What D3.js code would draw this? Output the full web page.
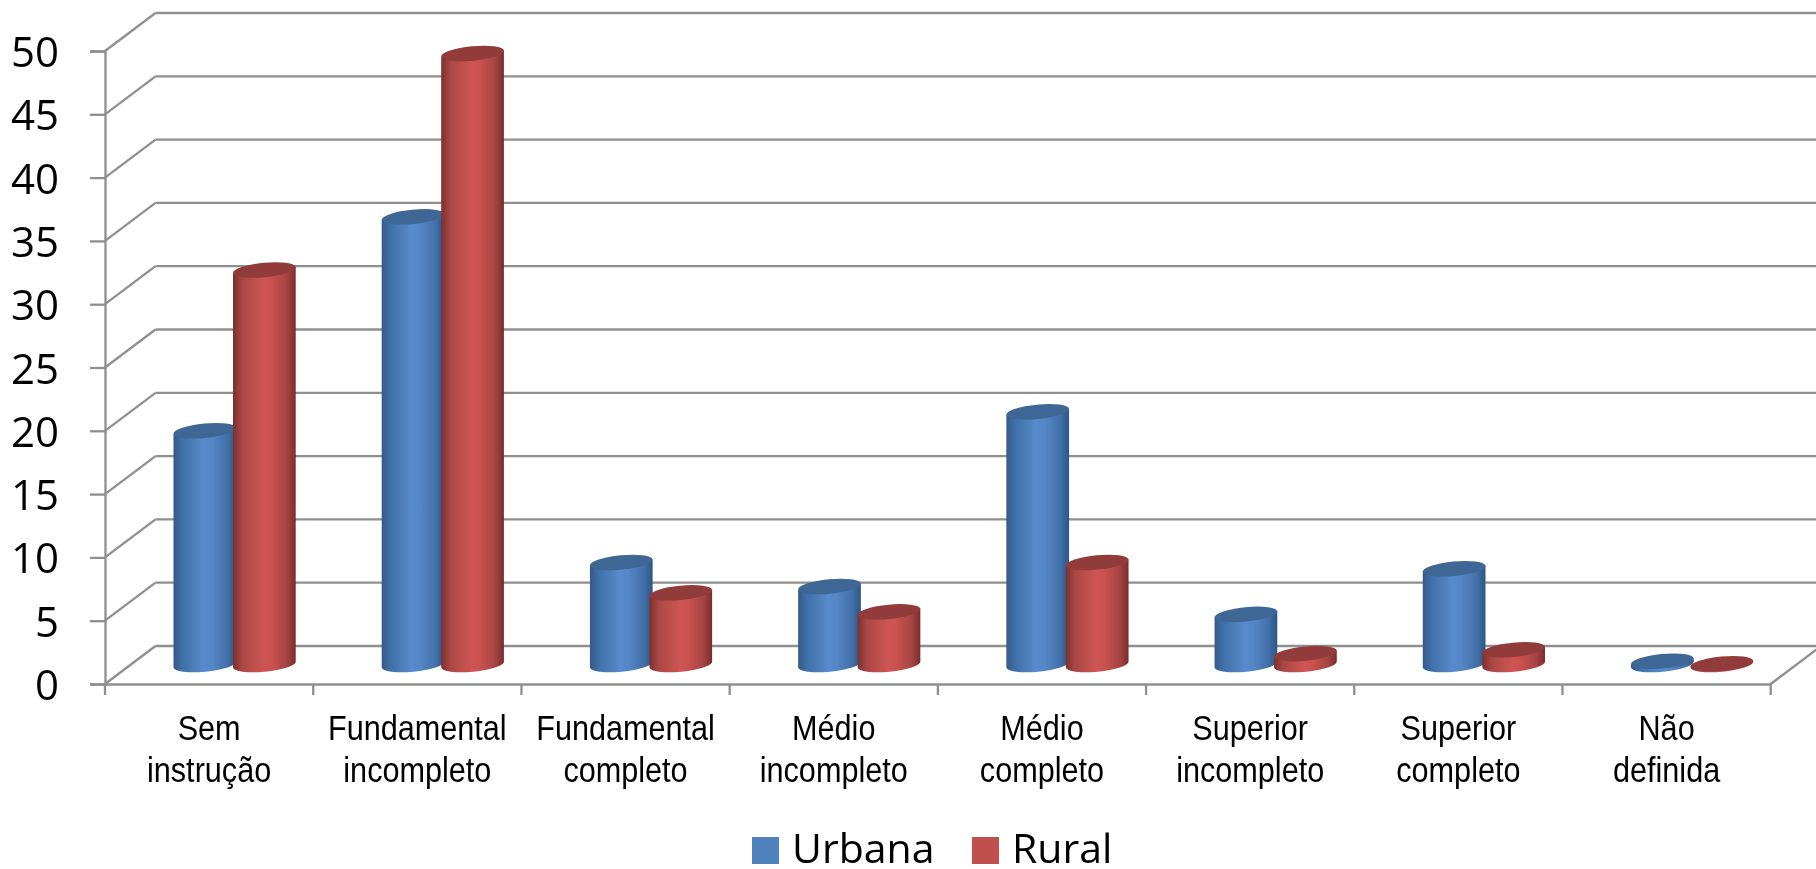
<!DOCTYPE html>
<html>
<head>
<meta charset="utf-8">
<title>Escolaridade</title>
<script src="https://cdn.jsdelivr.net/npm/d3@7"></script>
<style>
html, body { margin: 0; padding: 0; background: #fff; overflow: hidden; }
svg { display: block; filter: blur(0.5px); }
.grid { stroke: #8f8f8f; stroke-width: 2.3; fill: none; }
.ylab { font-family: "Open Sans"; font-size: 42px; fill: #000; }
.xlab { font-family: "Liberation Sans"; font-size: 35px; fill: #000; }
.leg { font-family: "Open Sans"; font-size: 41px; fill: #000; }
</style>
</head>
<body>
<script>
var categories = ["Sem instrução", "Fundamental incompleto", "Fundamental completo", "Médio incompleto",
	"Médio completo", "Superior incompleto", "Superior completo", "Não definida"];
var urbana = [18.5, 35.4, 8.1, 6.2, 20.0, 4.0, 7.6, 0.3];
var rural = [31.2, 48.3, 5.7, 4.2, 8.1, 0.9, 1.2, 0.1];
var yTicks = [0, 5, 10, 15, 20, 25, 30, 35, 40, 45, 50];
var seriesNames = ["Urbana", "Rural"];

var width = 1816, height = 869;
// depth of the 3d box
var depthX = 50.5, depthY = 38;
var left = 105, right = 1770.7, y0 = 684, y50 = 51;
var barRx = 31.5, barRy = 7.2, tilt = -5.5;

var svg = d3.select("body").append("svg").attr("width", width).attr("height", height);

var x = d3.scaleBand().domain(categories).range([left, right]);
var y = d3.scaleLinear().domain([0, 50]).range([y0, y50]);
var xSeries = d3.scalePoint().domain(seriesNames).range([-29.5, 30]);

// gradients
var defs = svg.append("defs");
function addGradient(id, stops) {
	var g = defs.append("linearGradient").attr("id", id).attr("x1", 0).attr("x2", 1).attr("y1", 0).attr("y2", 0);
	stops.forEach(function(s) {
		g.append("stop").attr("offset", s[0]).attr("stop-color", s[1]);
	});
}
addGradient("gradUrbana", [[0, "#335a88"], [0.14, "#4070a8"], [0.48, "#588bcc"], [0.62, "#5586c6"], [0.86, "#4170a9"], [1, "#2f5584"]]);
addGradient("gradRural", [[0, "#7c2f2d"], [0.14, "#a84745"], [0.48, "#ce5553"], [0.62, "#ca514f"], [0.86, "#a54442"], [1, "#7a2e2c"]]);
var topColor = { Urbana: "#3f6795", Rural: "#913b3a" };

// back wall
svg.append("g").selectAll("line").data(yTicks).enter().append("line")
	.attr("class", "grid")
	.attr("x1", left + depthX).attr("x2", width + 10)
	.attr("y1", function(d) { return y(d) - depthY; })
	.attr("y2", function(d) { return y(d) - depthY; });

// side wall
svg.append("g").selectAll("line").data(yTicks).enter().append("line")
	.attr("class", "grid")
	.attr("x1", left).attr("x2", left + depthX)
	.attr("y1", function(d) { return y(d); })
	.attr("y2", function(d) { return y(d) - depthY; });

// right edge of the floor
svg.append("line").attr("class", "grid")
	.attr("x1", right).attr("x2", right + depthX)
	.attr("y1", y0).attr("y2", y0 - depthY);

// axes
var yAxis = d3.axisLeft(y).tickValues(yTicks).tickSize(15).tickPadding(31);
var gy = svg.append("g").attr("transform", "translate(" + left + ",0)").call(yAxis);
gy.selectAll("text").attr("class", "ylab").attr("font-family", null).attr("font-size", null).attr("dy", "0.37em");

var xAxis = d3.axisBottom(x).tickValues([]).tickSizeOuter(0);
var gx = svg.append("g").attr("transform", "translate(0," + y0 + ")").call(xAxis);
gx.selectAll(".tick").remove();

var tickEdges = categories.map(function(c) { return x(c); }).concat([right]);
gx.selectAll("line.edge").data(tickEdges).enter().append("line")
	.attr("class", "edge")
	.attr("x1", function(d) { return d; }).attr("x2", function(d) { return d; })
	.attr("y1", 0).attr("y2", 11);

svg.selectAll(".domain, .tick line, .edge").attr("stroke", "#8f8f8f").attr("stroke-width", 2.3);

// category labels, two lines each
var labels = svg.append("g").selectAll("g").data(categories).enter().append("g")
	.attr("transform", function(d) { return "translate(" + (x(d) + x.bandwidth() / 2) + ",739.5) scale(0.875,1)"; });
labels.each(function(d) {
	var g = d3.select(this);
	d.split(" ").forEach(function(word, i) {
		g.append("text").attr("class", "xlab").attr("text-anchor", "middle").attr("y", i * 43).text(word);
	});
});

// cylinders, rural after urbana so the red one sits in front
var rad = tilt * Math.PI / 180;
var cx = barRx * Math.cos(rad), cy = barRx * Math.sin(rad);
function drawBars(name, values) {
	categories.forEach(function(c, i) {
		var mx = x(c) + x.bandwidth() / 2 + depthX / 2 + xSeries(name);
		var base = y(0) - depthY / 2 - 0.5;
		var top = y(values[i]) - depthY / 2;
		svg.append("path")
			.attr("d", "M" + (mx - cx) + "," + (top - cy) +
				"L" + (mx - cx) + "," + (base - cy) +
				"A" + barRx + "," + barRy + " " + tilt + " 0 0 " + (mx + cx) + "," + (base + cy) +
				"L" + (mx + cx) + "," + (top + cy) + "Z")
			.attr("fill", "url(#grad" + name + ")");
		svg.append("ellipse")
			.attr("rx", barRx).attr("ry", barRy)
			.attr("transform", "translate(" + mx + "," + top + ") rotate(" + tilt + ")")
			.attr("fill", topColor[name]);
	});
}
drawBars("Urbana", urbana);
drawBars("Rural", rural);

// legend
var legendX = { Urbana: 752, Rural: 972 };
var legendColor = { Urbana: "#4f81bd", Rural: "#c0504d" };
seriesNames.forEach(function(n) {
	svg.append("rect").attr("x", legendX[n]).attr("y", 837).attr("width", 27).attr("height", 27).attr("fill", legendColor[n]);
	svg.append("text").attr("class", "leg").attr("x", legendX[n] + 40).attr("y", 863).text(n);
});
</script>
</body>
</html>
